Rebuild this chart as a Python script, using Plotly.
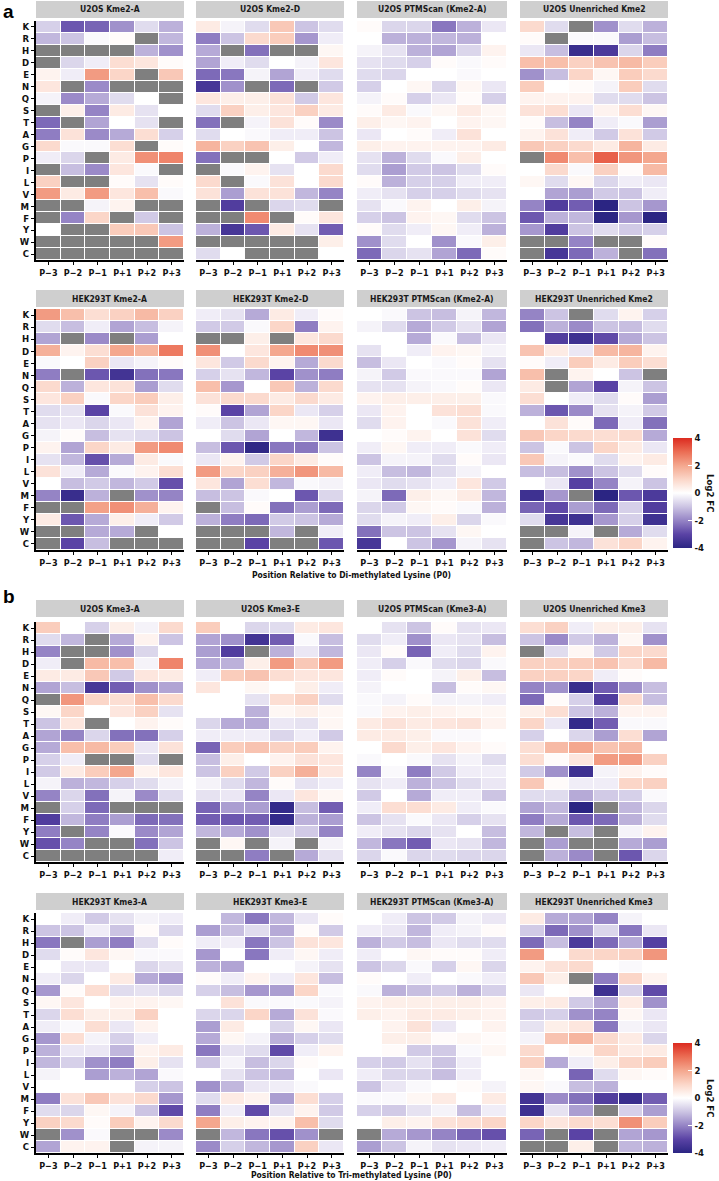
import plotly.graph_objects as go

W, H = 719, 1181

residues = ['K', 'R', 'H', 'D', 'E', 'N', 'Q', 'S', 'T', 'A',
            'G', 'P', 'I', 'L', 'V', 'M', 'F', 'Y', 'W', 'C']
positions = ['P−3', 'P−2', 'P−1', 'P+1', 'P+2', 'P+3']

titles = [
    'U2OS Kme2-A', 'U2OS Kme2-D', 'U2OS PTMScan (Kme2-A)', 'U2OS Unenriched Kme2',
    'HEK293T Kme2-A', 'HEK293T Kme2-D', 'HEK293T PTMScan (Kme2-A)', 'HEK293T Unenriched Kme2',
    'U2OS Kme3-A', 'U2OS Kme3-E', 'U2OS PTMScan (Kme3-A)', 'U2OS Unenriched Kme3',
    'HEK293T Kme3-A', 'HEK293T Kme3-E', 'HEK293T PTMScan (Kme3-A)', 'HEK293T Unenriched Kme3',
]

N = None  # not detected -> grey cell

# log2 fold change, rows K..C, columns P-3..P+3
u2os_kme2_a = [
    [-0.8, -2.7, -2.5, -1.8, -0.6, -1.3],
    [-1.2, -1.0, -0.1, 0.1, N, -1.2],
    [N, N, N, N, -1.3, -1.8],
    [N, -0.7, -0.3, 0.8, 0.6, 0.1],
    [0.3, -0.3, 2.2, 1.0, N, 1.3],
    [0.6, N, -1.9, N, N, N],
    [-0.2, -1.9, -1.4, -0.6, 0.0, N],
    [N, 0.4, -2.0, 0.5, -0.5, 0.0],
    [-2.4, N, -1.5, 0.0, -0.5, N],
    [-2.1, 0.7, -1.9, -1.4, 0.8, -0.8],
    [0.9, -0.1, -0.1, 0.8, N, 0.1],
    [-0.3, -0.7, N, 0.5, 2.4, 2.6],
    [N, -1.1, -1.9, 0.6, -0.1, N],
    [1.1, N, N, 0.1, -0.5, 0.1],
    [2.2, 0.5, 2.2, 0.6, 1.5, -0.1],
    [N, N, -0.2, 0.3, N, N],
    [N, -2.0, 1.0, N, -0.9, N],
    [0.0, N, N, 1.2, 1.3, -1.0],
    [N, N, N, N, N, 2.2],
    [N, N, N, N, N, N],
]
u2os_kme2_d = [
    [0.5, -0.2, -0.6, 1.3, -1.0, -0.6],
    [-2.1, -1.0, 0.9, 1.2, -1.7, -0.3],
    [-1.4, N, -2.3, N, N, 0.2],
    [-1.5, -0.3, -0.6, 0.0, -0.2, 0.6],
    [-2.4, -2.2, -0.2, -1.5, -0.3, -0.6],
    [-3.4, -1.8, N, -2.4, N, -0.9],
    [0.6, 0.4, 0.4, 0.7, -0.9, 0.6],
    [-0.6, 1.1, 0.4, 0.6, 1.1, 0.5],
    [-2.3, N, -0.2, 0.7, 0.1, -1.9],
    [-0.6, 0.0, -0.1, -0.3, -0.3, -1.0],
    [1.7, 1.1, 1.4, 0.4, 0.0, -1.2],
    [-2.3, N, N, 0.0, -0.9, -0.3],
    [N, -0.1, 0.3, -0.5, 0.0, 0.9],
    [0.9, N, -0.1, 0.7, 0.0, 0.9],
    [0.7, -1.6, 0.7, 0.7, -1.2, -2.0],
    [N, -3.2, N, -0.7, -0.6, N],
    [N, N, 2.5, N, 0.1, 0.6],
    [-1.3, -3.4, -2.7, 0.5, -0.5, -2.6],
    [N, N, N, N, N, 0.4],
    [-0.6, 0.0, N, N, N, 0.0],
]
u2os_ptmscan_kme2 = [
    [0.1, -0.7, -0.7, -2.2, -1.3, -0.4],
    [0.0, -1.3, -1.3, -1.2, -1.3, 0.0],
    [-0.2, -0.5, -1.3, -1.5, -0.7, 0.3],
    [-0.5, -0.6, -0.8, 0.1, -0.1, 0.1],
    [-0.6, -0.7, 0.0, 0.0, -0.1, 0.0],
    [-0.8, 0.0, 0.2, -0.7, 0.2, -0.4],
    [-0.2, 0.1, -0.8, -0.4, 0.1, -0.8],
    [0.1, 0.5, -0.1, 0.2, 0.5, 0.2],
    [0.4, 0.2, 0.3, 0.0, 0.3, 0.2],
    [-0.4, 0.0, 0.1, -0.3, 0.7, 0.0],
    [0.4, 0.3, 0.3, 0.3, 0.3, 0.5],
    [-0.5, -1.3, -0.6, -0.1, 0.4, 0.0],
    [-0.6, -1.6, -0.9, -1.0, -0.6, 0.1],
    [0.1, -1.3, -0.8, -0.8, -0.3, -0.3],
    [-0.3, -0.5, -0.8, -0.8, -0.6, -0.5],
    [-0.5, -0.1, 0.3, 0.0, 0.4, -0.2],
    [-0.8, -1.0, 0.3, 0.2, -0.6, -1.0],
    [0.1, -0.6, -0.3, 0.2, -0.3, -1.3],
    [-1.8, -0.6, 0.0, -1.8, -0.1, 0.4],
    [-2.4, -0.7, -0.5, -1.5, -2.4, 0.1],
]
u2os_unenriched_kme2 = [
    [0.9, -0.6, N, -1.8, -0.6, -1.3],
    [0.1, N, -0.1, -0.1, -1.6, -1.1],
    [-0.4, -1.1, -3.7, -3.3, -0.7, -2.1],
    [1.5, 1.5, 1.1, 1.4, 1.6, 1.2],
    [-1.8, -1.1, 1.0, 0.2, 1.2, 0.9],
    [1.2, 0.0, 0.1, -0.2, 1.2, -0.6],
    [0.3, 0.3, 0.3, -0.6, -0.6, -1.0],
    [0.7, 0.8, -0.4, 0.3, 0.8, 0.2],
    [0.1, -1.1, -2.0, -0.3, -0.1, -1.6],
    [0.3, 0.7, -0.3, -0.9, 0.7, -0.9],
    [1.3, 1.1, 0.9, 0.5, 1.7, 0.5],
    [N, 2.5, 1.5, 3.2, 2.3, 2.0],
    [0.0, 0.9, -0.1, 1.1, 0.1, 1.6],
    [0.2, -0.6, 0.2, -0.7, -0.3, -0.4],
    [0.0, -1.5, -1.6, -0.9, -1.0, -0.3],
    [-2.0, -3.2, -2.6, -4.0, -1.0, -1.7],
    [-2.7, -1.3, -1.2, -4.2, -1.7, -4.2],
    [-1.7, -3.2, -1.0, -0.6, -0.9, -0.8],
    [N, N, -2.0, N, N, 0.1],
    [N, -3.4, -2.4, -1.3, N, -2.3],
]
hek_kme2_a = [
    [2.2, 1.5, 0.8, 1.1, 1.6, 1.1],
    [-0.6, -1.1, -0.3, -1.5, -1.1, -0.2],
    [-1.5, N, -1.9, N, -1.6, 0.0],
    [1.8, 0.3, 0.8, 2.0, 1.7, 2.8],
    [-0.1, 0.0, 1.1, -0.4, -0.2, 0.1],
    [-2.1, N, -2.7, -3.5, -2.3, -2.2],
    [0.9, -1.3, 0.6, 0.7, -1.6, -0.6],
    [0.6, 1.1, -0.1, 1.0, 1.2, 0.4],
    [-0.6, -0.5, -3.0, -0.1, 0.7, 0.3],
    [-0.5, -0.4, -0.7, -0.4, 0.3, -1.5],
    [-0.2, 0.1, -1.1, -0.5, -0.6, -1.0],
    [0.3, -1.5, 1.0, 0.5, 2.2, 2.5],
    [-0.5, -1.2, -2.8, -1.4, 0.5, -0.1],
    [0.7, -0.3, -1.4, -0.1, 0.3, 0.8],
    [0.0, -1.1, -0.9, -1.2, -0.9, -2.8],
    [-2.0, -3.7, -1.3, N, -1.8, -2.0],
    [N, N, 2.1, 2.4, 1.8, 0.3],
    [0.5, -2.7, -1.4, 0.4, -0.3, -0.9],
    [N, N, -1.4, -1.4, N, 0.0],
    [N, -3.0, -1.1, N, N, N],
]
hek_kme2_d = [
    [-0.3, -0.5, -1.4, 0.5, -0.3, 0.1],
    [-0.9, -0.9, -0.1, 1.0, -2.1, 0.3],
    [N, N, 0.4, N, 0.6, 0.9],
    [2.4, 0.0, 0.6, 2.0, 2.5, 2.4],
    [0.6, -0.9, 0.9, 0.3, -1.4, 0.9],
    [-0.8, -0.5, -1.2, -3.0, -1.8, -2.1],
    [1.5, -1.7, 0.0, 1.3, -1.3, 0.9],
    [0.7, 0.9, 0.9, 0.5, 0.9, 0.5],
    [0.1, -3.0, -1.5, 1.0, -0.4, -0.8],
    [-0.3, -1.0, -0.4, 0.2, 0.2, -0.4],
    [0.0, -0.6, -1.5, 0.0, -1.2, -3.6],
    [-1.1, -2.7, -3.9, -2.2, -2.2, -1.0],
    [-0.4, 0.3, -0.9, 1.0, 0.5, 0.1],
    [2.2, 1.0, 1.1, 1.8, 2.3, 1.6],
    [0.6, -1.5, 0.8, -1.2, -0.1, -0.2],
    [-1.1, -1.0, -0.1, 0.0, -2.7, -0.7],
    [N, -1.1, 0.1, -2.3, -1.6, -2.4],
    [-1.3, -2.1, -2.4, -0.9, -1.0, -1.4],
    [N, N, N, -1.2, N, -0.3],
    [N, N, -3.0, N, N, -2.7],
]
hek_ptmscan_kme2 = [
    [0.0, -0.1, -1.0, -1.1, -0.2, -1.2],
    [-0.2, -0.6, -1.4, -0.9, -0.5, -1.5],
    [0.0, 0.0, -1.4, -0.1, -1.1, -0.4],
    [-0.5, 0.0, -0.3, 0.3, 0.2, -0.2],
    [-1.1, -0.4, 0.0, -0.1, 0.1, -0.5],
    [-0.2, -0.9, -0.1, -0.1, -0.1, -1.5],
    [-0.5, -0.5, -0.2, -0.1, 0.1, -0.4],
    [0.3, 0.4, 0.4, 0.4, 0.4, -0.1],
    [-0.4, 0.3, 0.0, 0.7, 0.8, -0.1],
    [-0.6, 0.3, 0.0, -0.1, 0.7, -0.3],
    [0.0, 0.1, 0.3, 0.0, 0.7, -0.6],
    [-0.3, 0.2, -0.3, -0.3, -0.1, -0.3],
    [-1.0, -0.2, -0.2, -0.6, 0.1, -0.4],
    [-0.3, -1.1, -1.2, -0.6, -0.2, 0.0],
    [-0.4, -0.6, -0.5, -0.3, 0.6, -0.9],
    [-0.2, -2.4, 0.4, 0.2, 0.5, -1.2],
    [-0.7, -0.9, 0.2, 0.1, -0.1, -1.3],
    [-0.6, -0.2, -0.3, 0.4, -0.7, -0.1],
    [-2.3, -1.0, -1.0, -0.5, 0.2, 0.0],
    [-3.4, 0.0, -1.0, -1.7, -0.2, -0.5],
]
hek_unenriched_kme2 = [
    [-2.0, -1.0, N, -0.6, 0.3, -0.8],
    [-2.3, -1.3, -1.9, -1.0, -1.1, -0.6],
    [0.0, -3.2, -3.6, -2.9, -1.4, -1.0],
    [1.4, 0.5, -0.4, 1.6, 1.7, 0.3],
    [0.1, -0.3, 1.2, 0.5, 1.2, 0.8],
    [1.5, N, 0.3, 0.0, -1.0, N],
    [0.5, N, -1.5, -3.0, -0.2, -1.0],
    [0.8, 0.0, -0.3, -0.6, 0.1, -1.6],
    [-1.3, -2.7, -1.9, -0.5, -0.2, -0.9],
    [0.0, 0.7, 0.1, -2.4, -0.3, -2.3],
    [1.3, 1.0, 0.9, 0.8, 0.9, -1.4],
    [-1.0, -0.1, -1.0, 1.0, 0.5, -0.4],
    [1.3, -0.2, -0.1, -0.6, 0.3, 0.5],
    [-1.1, -1.1, -1.8, -1.0, -0.6, 0.1],
    [0.0, -0.4, -3.1, -2.0, -0.2, -1.0],
    [-3.6, -1.7, N, -4.0, -2.7, -3.3],
    [-2.5, -2.9, -1.6, -2.4, -0.8, -3.2],
    [-0.6, -3.4, -3.6, -1.7, -0.8, -3.6],
    [N, N, -0.2, N, -1.4, -0.6],
    [N, -1.0, -1.2, 0.7, 1.0, 0.3],
]
u2os_kme3_a = [
    [1.2, 0.0, -0.8, 0.4, -0.2, 0.9],
    [-0.6, -1.2, N, -1.4, 0.3, -1.0],
    [-2.0, N, N, -1.8, -0.7, 0.0],
    [-0.3, N, 1.6, 1.5, -0.2, 2.6],
    [0.5, 0.5, 1.3, -0.9, 0.6, 0.5],
    [-1.5, -1.1, -3.4, -2.6, -1.8, -1.5],
    [N, 2.3, 1.0, 0.8, 1.5, 0.9],
    [0.2, 1.0, 0.0, 0.6, 1.1, -0.5],
    [-1.0, 0.6, N, 0.0, 0.3, 0.1],
    [-1.5, -2.0, -0.7, -2.3, -2.3, -0.8],
    [-1.4, 1.5, 1.6, 1.2, -0.4, 0.7],
    [-0.8, -0.3, N, N, -0.6, N],
    [-0.9, 0.5, 1.2, 2.0, 0.3, 0.6],
    [-0.2, -1.3, -1.2, -0.8, -0.6, -0.2],
    [-2.0, -0.7, -2.3, -0.2, -1.9, -0.6],
    [N, -0.8, -2.4, N, N, N],
    [-3.2, -1.2, -2.1, -1.6, -2.4, -2.3],
    [-2.1, N, -2.0, -0.1, -1.9, -1.5],
    [-2.8, -2.0, N, N, -2.3, -1.0],
    [N, N, N, N, N, -0.3],
]
u2os_kme3_e = [
    [1.2, 0.0, -0.7, -0.6, 0.5, 0.6],
    [-1.5, -1.8, -3.5, -2.6, -0.1, -1.1],
    [-1.6, -3.2, N, -1.3, -0.4, -1.2],
    [-1.4, -1.3, 0.4, 2.2, 1.3, 2.2],
    [-0.3, 1.2, 1.4, 0.8, 0.6, 0.6],
    [0.6, 0.0, 0.2, 0.0, 0.4, -0.3],
    [0.0, 0.0, -0.5, 0.8, 1.1, -0.6],
    [0.0, 0.0, -1.3, 0.2, 0.4, 0.2],
    [-0.7, -1.4, -1.4, -0.4, -0.5, 0.2],
    [-0.3, -0.3, -0.3, -0.7, -0.3, -0.9],
    [-2.5, 1.2, 1.4, 1.1, 1.2, 0.3],
    [-1.1, 0.4, 0.0, 0.3, 0.7, 0.6],
    [-1.0, 1.1, -0.9, 1.1, 1.8, 0.6],
    [-0.2, -0.6, -1.2, 0.1, -0.5, -0.3],
    [-0.5, -0.4, -2.0, -0.4, 0.6, 0.2],
    [-2.5, -1.6, -1.6, -3.8, -1.1, -2.6],
    [-2.6, -2.7, -2.6, -3.8, -1.3, -1.6],
    [-1.2, -1.4, -1.8, -0.6, -0.9, -2.0],
    [N, 0.2, N, -0.2, N, -0.2],
    [N, N, -2.1, N, -1.4, -0.5],
]
u2os_ptmscan_kme3 = [
    [0.0, -0.5, -1.0, 0.1, -0.5, -0.4],
    [-0.6, -0.3, -1.8, -0.4, -0.5, -1.1],
    [-0.4, 0.1, -2.5, -0.3, -0.6, 0.3],
    [-0.3, -0.8, -0.1, -0.6, -0.7, -0.1],
    [-0.3, 0.1, 0.0, -0.2, 0.4, -1.1],
    [-0.2, 0.0, 0.0, -1.1, 0.1, 0.2],
    [-0.1, -0.2, 0.1, -0.2, -0.2, -0.3],
    [-0.1, 0.3, 0.4, 0.3, 0.2, 0.2],
    [0.5, 0.7, 0.5, 0.6, 0.7, 0.3],
    [0.5, 0.5, 0.4, -0.1, -0.1, 0.0],
    [0.0, 0.9, 0.4, 0.6, 0.3, 0.1],
    [-0.1, 0.0, -0.1, -0.5, -0.2, -0.6],
    [-2.0, -0.1, -2.1, -0.9, -0.3, -0.3],
    [-0.5, -0.3, -1.3, -1.0, -0.6, -0.4],
    [-0.9, 0.0, -1.4, -0.3, -0.3, -1.0],
    [-0.3, 0.8, 0.8, 0.5, -0.3, -0.1],
    [-1.0, -0.5, -0.1, -0.4, -0.8, -0.5],
    [-0.3, -0.5, -0.7, -0.5, 0.0, -1.1],
    [-1.2, -2.2, -2.6, -0.4, -0.5, -1.2],
    [-0.7, -0.1, -0.7, -0.6, -0.7, -0.7],
]
u2os_unenriched_kme3 = [
    [0.8, 1.1, -0.3, 0.4, 0.4, -0.5],
    [-1.0, -1.9, -0.9, -1.3, 0.2, -1.8],
    [N, -0.6, 0.2, -0.9, 1.0, 0.9],
    [1.1, 1.1, 1.2, 1.4, 0.9, 1.6],
    [1.1, 1.1, 1.0, -0.3, 0.1, 0.0],
    [-2.0, -1.8, -3.7, -2.6, -1.8, -1.1],
    [-2.4, 0.1, -0.8, -3.2, 0.9, -1.1],
    [0.4, 0.8, -1.0, -1.3, 0.3, 0.3],
    [1.0, -0.4, -3.8, -2.6, -0.1, -0.1],
    [-0.8, 0.0, -0.7, -1.6, 0.8, -1.5],
    [0.8, 1.6, 2.0, 1.4, 1.6, 0.0],
    [0.8, 0.1, 0.6, 2.2, 2.2, 1.1],
    [-0.9, -1.8, -3.6, -0.2, 0.3, 0.1],
    [1.3, 0.1, -0.3, -0.3, 1.0, 1.1],
    [-0.6, -0.6, -1.4, -0.9, -0.8, -0.1],
    [-1.5, -1.2, -4.2, N, -1.2, -0.7],
    [-2.1, -1.4, -2.7, -2.4, -1.3, -0.6],
    [-1.2, N, -1.1, N, -0.2, 0.3],
    [N, -1.6, N, N, -1.4, -1.6],
    [N, -1.3, -1.9, N, -2.7, -0.7],
]
hek_kme3_a = [
    [0.0, -0.3, -0.9, -0.5, -0.2, -0.3],
    [-1.0, -1.0, -0.3, -1.0, 0.1, -0.7],
    [-2.2, N, -1.6, -2.1, -0.6, 0.1],
    [-0.6, 0.1, 0.6, 0.2, -0.1, -0.1],
    [0.0, -0.4, -0.4, 0.0, -0.7, -0.5],
    [-0.3, -0.7, 0.0, 0.5, -1.4, -1.7],
    [-1.7, 0.1, 0.8, -0.6, -0.5, -0.7],
    [0.2, 0.6, 0.0, 0.3, 0.3, 0.2],
    [-0.7, 0.8, 0.4, 0.4, 1.1, 0.0],
    [-0.3, -0.1, 0.8, -0.4, 0.3, 0.0],
    [-1.7, 0.8, -0.2, -0.8, -0.3, 0.0],
    [-1.3, -0.4, -0.4, -1.2, 0.3, 0.5],
    [-1.2, -0.8, -1.8, -2.1, 0.4, -0.5],
    [-0.2, 0.0, -1.6, -1.3, -1.5, -0.1],
    [0.0, 0.0, 0.0, 0.0, -0.8, -1.0],
    [-2.1, 0.7, 1.3, 0.7, 0.9, -1.7],
    [-0.6, -0.7, 0.2, -0.2, -1.0, -2.9],
    [1.1, 0.9, 0.1, 1.2, 0.3, 0.9],
    [N, -1.8, -0.1, N, N, -1.9],
    [-1.5, 0.3, 0.3, N, -0.2, -0.2],
]
hek_kme3_e = [
    [0.0, -1.2, -2.2, -1.2, -0.4, 0.1],
    [-1.6, -1.1, -0.6, -1.4, 0.1, -0.9],
    [-0.3, -0.3, -2.2, -1.0, 0.7, 0.6],
    [-1.7, 0.0, -2.2, -0.3, 0.2, -0.3],
    [-1.3, -1.5, 0.0, 0.0, -0.2, -0.5],
    [0.1, -0.3, 0.3, -0.3, 0.6, -1.1],
    [-0.8, -1.1, -1.7, -1.6, 1.0, -0.1],
    [0.0, 0.7, -0.1, -0.1, -0.1, -0.2],
    [-0.7, -0.7, 1.0, -1.4, 0.7, -0.1],
    [-1.6, 0.5, 0.0, -0.7, 0.2, -0.4],
    [-1.4, 0.2, -0.2, -1.3, -0.8, -0.6],
    [-2.2, -0.5, -0.6, -2.9, -0.3, 0.3],
    [-1.0, -0.2, -1.1, -0.7, 0.1, 0.0],
    [0.0, -0.5, -1.0, -1.2, 0.0, -0.4],
    [-1.8, -1.2, -0.4, -0.3, -0.1, 0.0],
    [-0.6, 0.5, 0.3, -1.6, 0.8, -0.8],
    [-2.1, -0.3, -2.9, -0.5, 0.3, -0.9],
    [2.0, 0.4, 0.3, 0.3, 1.5, -0.6],
    [N, -1.2, -2.2, -2.8, -1.8, N],
    [-1.9, -0.8, -1.2, -1.7, 1.1, -0.4],
]
hek_ptmscan_kme3 = [
    [0.0, -0.3, -1.0, -0.9, -0.2, -0.4],
    [-0.3, -0.4, -1.2, -0.3, -0.2, 0.1],
    [-1.3, -0.9, -1.1, -0.4, -0.6, -0.6],
    [-0.3, 0.0, 0.2, 0.1, 0.1, -0.3],
    [-1.0, -0.7, -0.1, -0.8, 0.2, -0.7],
    [0.1, 0.0, -0.3, 0.0, -0.1, -0.3],
    [-0.1, -1.3, -1.1, -0.9, -1.3, -0.8],
    [0.3, 0.4, 0.4, 0.4, 0.4, 0.3],
    [0.4, 0.3, 0.5, 0.5, 0.4, 0.3],
    [0.0, 0.3, 0.7, -0.4, 0.0, 0.3],
    [0.0, 0.4, 0.4, 0.1, 0.2, 0.1],
    [0.0, 0.1, -0.9, -0.9, -0.1, 0.2],
    [-0.8, -0.9, -0.5, -1.0, -0.3, 0.0],
    [-0.3, -0.7, -0.7, -1.1, -0.3, 0.0],
    [-1.0, -0.4, -0.1, 0.0, 0.1, -0.2],
    [-0.1, -0.1, 0.2, 0.5, 0.0, 0.5],
    [-0.8, -0.9, -0.5, -0.2, -1.1, -0.3],
    [0.0, 0.4, 0.3, 0.7, 0.8, 1.0],
    [N, -1.4, -1.7, -2.0, -2.5, -2.8],
    [-1.6, -1.0, -0.2, -0.5, -0.4, -0.3],
]
hek_unenriched_kme3 = [
    [0.5, -1.4, -1.5, -2.0, -0.2, 0.0],
    [-0.9, -2.4, -1.8, -0.7, -2.2, -0.4],
    [-2.4, -1.1, -3.3, -2.4, -1.4, -3.1],
    [2.2, 0.0, 0.9, 1.0, 1.1, 2.3],
    [0.3, 0.7, 0.9, 0.0, -0.1, 0.0],
    [1.3, 0.4, N, -2.1, 1.0, 0.3],
    [-0.4, 0.0, 0.1, -3.6, -0.8, -2.9],
    [0.4, 0.5, -0.9, -1.5, 0.5, -1.8],
    [-0.9, -0.8, -1.8, -2.0, 0.2, -0.4],
    [-0.5, 0.4, 0.6, -2.2, -0.2, -0.4],
    [-0.2, 1.4, 1.7, 0.9, 0.5, -0.7],
    [0.9, 0.0, 0.2, 1.0, 0.5, 0.5],
    [1.1, -1.4, -0.3, 0.4, 1.0, 1.2],
    [0.2, 0.0, -2.5, -0.6, 0.2, 0.1],
    [0.2, -0.1, -1.1, -1.3, 0.0, 0.0],
    [-3.5, -1.9, -2.3, -3.2, -3.7, -2.6],
    [-3.6, -0.5, -1.6, N, -0.8, -1.6],
    [1.0, 0.6, 0.9, 0.8, 2.4, 1.2],
    [-2.5, N, -3.0, N, -1.5, -1.7],
    [N, N, 0.4, N, -1.2, -1.3],
]

panels = [
    u2os_kme2_a, u2os_kme2_d, u2os_ptmscan_kme2, u2os_unenriched_kme2,
    hek_kme2_a, hek_kme2_d, hek_ptmscan_kme2, hek_unenriched_kme2,
    u2os_kme3_a, u2os_kme3_e, u2os_ptmscan_kme3, u2os_unenriched_kme3,
    hek_kme3_a, hek_kme3_e, hek_ptmscan_kme3, hek_unenriched_kme3,
]

colorscale = [
    [0.0, '#2b2583'], [0.125, '#5a43a5'], [0.25, '#9584c5'], [0.375, '#ccc4e3'],
    [0.5, '#ffffff'], [0.625, '#fbd6c8'], [0.75, '#f4a78e'], [0.875, '#eb6d54'],
    [1.0, '#dc2b20'],
]

# pixel layout
col_px = [(36, 184), (196, 344), (357, 507), (520, 668)]
row_px = [(21, 260), (309, 550), (622, 862), (913, 1153)]
strip_px = [(1, 18), (290, 307), (600, 617), (893, 910)]

def px_x(p):
    return p / W

def px_y(p):
    return 1 - p / H

FONT = 'Liberation Sans Narrow, DejaVu Sans Condensed, Roboto Condensed, Liberation Sans, Arial'

fig = go.Figure()
layout = {}
shapes = []
annotations = []

for i, z in enumerate(panels):
    r, c = i // 4, i % 4
    k = '' if i == 0 else str(i + 1)
    grey = [[1 if v is None else None for v in row] for row in z]
    fig.add_trace(go.Heatmap(
        z=grey, x=positions, y=residues, xaxis='x' + k, yaxis='y' + k,
        colorscale=[[0, '#7f7f7f'], [1, '#7f7f7f']], zmin=0, zmax=1,
        showscale=False, xgap=1, ygap=1, hoverinfo='skip'))
    fig.add_trace(go.Heatmap(
        z=z, x=positions, y=residues, xaxis='x' + k, yaxis='y' + k,
        coloraxis='coloraxis' if r < 2 else 'coloraxis2',
        xgap=1, ygap=1))

    x0, x1 = col_px[c]
    y0, y1 = row_px[r]
    layout['xaxis' + k] = dict(
        domain=[px_x(x0), px_x(x1)], anchor='y' + k, type='category',
        tickmode='array', tickvals=positions,
        showline=True, linecolor='black', linewidth=2, ticks='outside',
        ticklen=3, tickcolor='black', showgrid=False, zeroline=False,
        tickfont=dict(family=FONT, size=9, color='#111', weight='bold'))
    layout['yaxis' + k] = dict(
        domain=[px_y(y1), px_y(y0)], anchor='x' + k, type='category',
        tickmode='array', tickvals=residues,
        autorange='reversed', showgrid=False, zeroline=False,
        showline=(c == 0), linecolor='black', linewidth=2,
        ticks='outside' if c == 0 else '', ticklen=3, tickcolor='black',
        showticklabels=(c == 0),
        tickfont=dict(family=FONT, size=9.5, color='#111', weight='bold'))

    s0, s1 = strip_px[r]
    shapes.append(dict(type='rect', xref='paper', yref='paper',
                       x0=px_x(x0), x1=px_x(x1), y0=px_y(s1), y1=px_y(s0),
                       fillcolor='#cfcfcf', line=dict(width=0), layer='below'))
    annotations.append(dict(
        x=px_x((x0 + x1) / 2), y=px_y((s0 + s1) / 2), xref='paper', yref='paper',
        text=titles[i], showarrow=False, xanchor='center', yanchor='middle',
        font=dict(family=FONT, size=8.5, color='#1a1a1a', weight='bold')))

for lab, yy in [('a', 12), ('b', 596)]:
    annotations.append(dict(x=px_x(1), y=px_y(yy), xref='paper', yref='paper',
                            text=lab, showarrow=False, xanchor='left', yanchor='middle',
                            font=dict(family='Liberation Sans, Arial', size=19,
                                      color='black', weight='bold')))

for txt, yy in [('Position Relative to Di-methylated Lysine (P0)', 575),
                ('Position Relative to Tri-methylated Lysine (P0)', 1175)]:
    annotations.append(dict(x=px_x(351), y=px_y(yy), xref='paper', yref='paper',
                            text=txt, showarrow=False, xanchor='center', yanchor='middle',
                            font=dict(family=FONT, size=8.5, color='#111', weight='bold')))

for yc in [493, 1098]:
    annotations.append(dict(x=px_x(711), y=px_y(yc), xref='paper', yref='paper',
                            text='Log2 FC', showarrow=False, textangle=90,
                            xanchor='center', yanchor='middle',
                            font=dict(family=FONT, size=9.5, color='#111', weight='bold')))

def cbar(yc):
    return dict(
        x=px_x(673), xanchor='left', y=px_y(yc), yanchor='middle', xpad=0, ypad=0,
        len=110, lenmode='pixels', thickness=19, thicknessmode='pixels',
        outlinewidth=0, tickvals=[-4, -2, 0, 2, 4], ticktext=['-4', '-2', '0', '2', '4'],
        ticks='inside', ticklen=4, tickcolor='white',
        tickfont=dict(family=FONT, size=9.5, color='#111', weight='bold'))

layout['coloraxis'] = dict(colorscale=colorscale, cmin=-4, cmax=4, colorbar=cbar(493))
layout['coloraxis2'] = dict(colorscale=colorscale, cmin=-4, cmax=4, colorbar=cbar(1098))

fig.update_layout(
    width=W, height=H, margin=dict(l=0, r=0, t=0, b=0),
    paper_bgcolor='white', plot_bgcolor='white',
    shapes=shapes, annotations=annotations, showlegend=False,
    **layout)

# drop the default 8px page margin so the figure sits at the window origin
fig.write_html('out.html', config={'displayModeBar': False},
               post_script="document.body.style.margin='0';")
